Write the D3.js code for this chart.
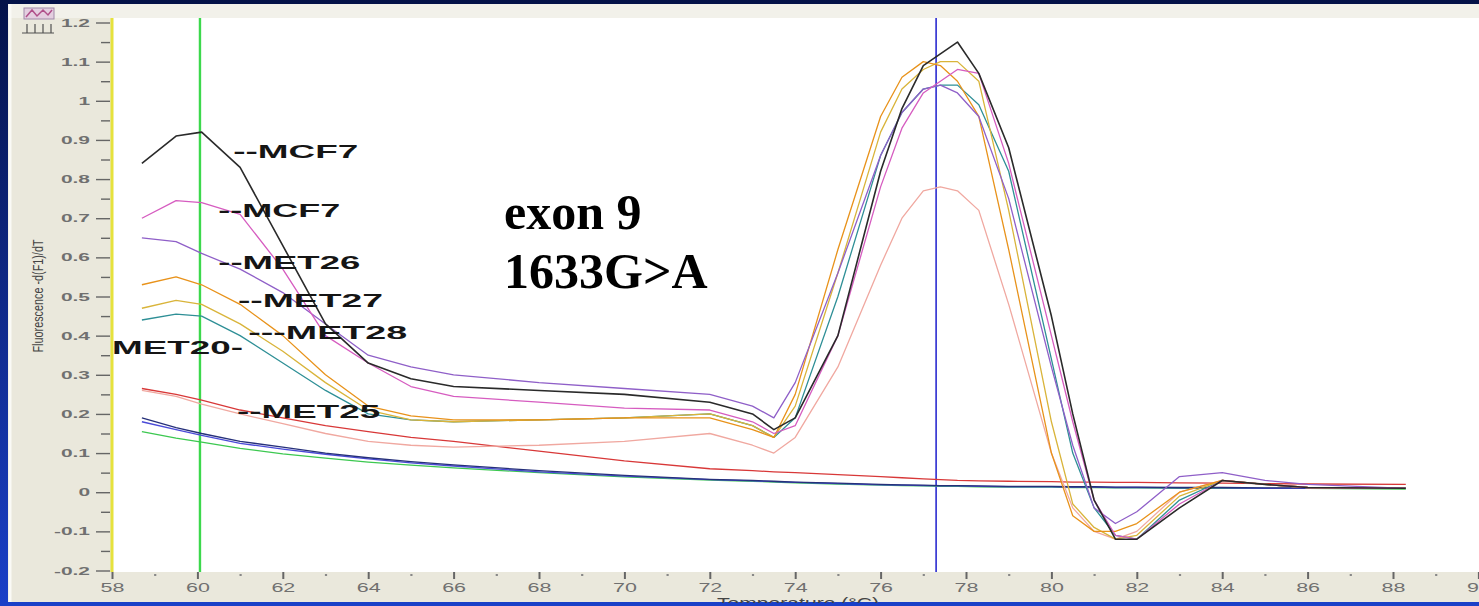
<!DOCTYPE html>
<html>
<head>
<meta charset="utf-8">
<script src="https://cdn.jsdelivr.net/npm/d3@7"></script>
<style>
  body { margin: 0; overflow: hidden; background: #0b2470; }
  #chart { width: 1479px; height: 606px; }
</style>
</head>
<body>
<div id="chart"></div>
<script>
// ---- data (temperature in °C, -d(F1)/dT) ----
const temps = [58.7, 59.5, 60.1, 61, 62, 63, 64, 65, 66, 68, 70, 72, 73, 73.5, 74, 75, 76, 76.5, 77, 77.4, 77.8, 78.3, 79, 80, 80.5, 81, 81.5, 82, 83, 84, 85, 86, 88.3];

const mcf7A  = [0.84, 0.91, 0.92, 0.83, 0.63, 0.43, 0.33, 0.29, 0.27, 0.26, 0.25, 0.23, 0.20, 0.16, 0.19, 0.40, 0.82, 0.98, 1.09, 1.12, 1.15, 1.07, 0.88, 0.45, 0.20, -0.02, -0.12, -0.12, -0.04, 0.03, 0.02, 0.012, 0.01];
const mcf7B  = [0.70, 0.745, 0.74, 0.71, 0.57, 0.40, 0.33, 0.27, 0.245, 0.23, 0.215, 0.21, 0.18, 0.15, 0.17, 0.40, 0.78, 0.93, 1.02, 1.05, 1.08, 1.07, 0.84, 0.40, 0.18, -0.02, -0.11, -0.12, -0.03, 0.03, 0.02, 0.012, 0.01];
const met26  = [0.65, 0.64, 0.61, 0.57, 0.51, 0.43, 0.35, 0.32, 0.30, 0.28, 0.265, 0.25, 0.22, 0.19, 0.28, 0.56, 0.86, 0.97, 1.03, 1.04, 1.02, 0.96, 0.75, 0.32, 0.12, -0.04, -0.08, -0.05, 0.04, 0.05, 0.03, 0.02, 0.01];
const met27  = [0.53, 0.55, 0.53, 0.48, 0.40, 0.30, 0.22, 0.195, 0.185, 0.185, 0.19, 0.19, 0.16, 0.14, 0.25, 0.62, 0.96, 1.06, 1.10, 1.09, 1.05, 0.96, 0.62, 0.10, -0.06, -0.10, -0.10, -0.08, 0.0, 0.03, 0.02, 0.012, 0.01];
const met28  = [0.47, 0.49, 0.48, 0.43, 0.36, 0.28, 0.21, 0.185, 0.18, 0.185, 0.19, 0.20, 0.17, 0.14, 0.22, 0.56, 0.92, 1.03, 1.08, 1.10, 1.10, 1.05, 0.72, 0.18, -0.03, -0.09, -0.12, -0.11, -0.01, 0.03, 0.02, 0.012, 0.01];
const met20  = [0.44, 0.455, 0.45, 0.40, 0.33, 0.26, 0.20, 0.185, 0.18, 0.185, 0.19, 0.20, 0.17, 0.14, 0.19, 0.50, 0.86, 0.97, 1.03, 1.04, 1.04, 0.99, 0.82, 0.34, 0.10, -0.04, -0.11, -0.12, -0.02, 0.03, 0.02, 0.012, 0.01];
const met25  = [0.26, 0.245, 0.225, 0.20, 0.175, 0.15, 0.13, 0.12, 0.115, 0.12, 0.13, 0.15, 0.12, 0.10, 0.14, 0.32, 0.58, 0.70, 0.77, 0.78, 0.77, 0.72, 0.48, 0.10, -0.04, -0.10, -0.12, -0.10, 0.0, 0.03, 0.02, 0.012, 0.01];
const blankRed   = [0.265, 0.25, 0.235, 0.21, 0.19, 0.17, 0.155, 0.14, 0.13, 0.105, 0.08, 0.06, 0.055, 0.052, 0.05, 0.045, 0.04, 0.037, 0.034, 0.032, 0.03, 0.029, 0.028, 0.027, 0.026, 0.026, 0.025, 0.025, 0.024, 0.023, 0.022, 0.021, 0.02];
const blankNavy  = [0.19, 0.165, 0.15, 0.13, 0.115, 0.10, 0.088, 0.078, 0.07, 0.055, 0.043, 0.033, 0.03, 0.028, 0.026, 0.023, 0.02, 0.019, 0.018, 0.017, 0.017, 0.016, 0.015, 0.015, 0.014, 0.014, 0.013, 0.013, 0.012, 0.012, 0.011, 0.011, 0.01];
const blankBlue  = [0.18, 0.16, 0.145, 0.125, 0.11, 0.097, 0.085, 0.075, 0.067, 0.052, 0.041, 0.032, 0.029, 0.027, 0.025, 0.022, 0.019, 0.018, 0.017, 0.016, 0.016, 0.015, 0.014, 0.014, 0.013, 0.013, 0.012, 0.012, 0.011, 0.011, 0.01, 0.01, 0.01];
const blankGreen = [0.155, 0.138, 0.128, 0.112, 0.098, 0.087, 0.077, 0.069, 0.062, 0.05, 0.039, 0.031, 0.028, 0.026, 0.024, 0.021, 0.018, 0.017, 0.016, 0.015, 0.015, 0.014, 0.013, 0.013, 0.012, 0.012, 0.011, 0.011, 0.01, 0.01, 0.01, 0.01, 0.008];

// drawing order: blanks underneath, samples on top
const seriesNames  = ['blank green', 'blank blue', 'blank navy', 'blank red', 'MET25', 'MET20', 'MET28', 'MET27', 'MET26', 'MCF7 b', 'MCF7 a'];
const seriesValues = [blankGreen, blankBlue, blankNavy, blankRed, met25, met20, met28, met27, met26, mcf7B, mcf7A];
const seriesColors = ['#3cc850', '#4a4ad8', '#26307a', '#d83838', '#f0a8a0', '#2e8f96', '#d9b43a', '#e8921a', '#8f5fc8', '#d65cc0', '#2a2a2a'];

const cursorTemps  = [60.06, 77.3];
const cursorColors = ['#3cd84c', '#2a2ad0'];

const xMajorTicks = [58, 60, 62, 64, 66, 68, 70, 72, 74, 76, 78, 80, 82, 84, 86, 88, 90];
const xMinorTicks = [59, 61, 63, 65, 67, 69, 71, 73, 75, 77, 79, 81, 83, 85, 87, 89];
const yMajorTicks = [1.2, 1.1, 1.0, 0.9, 0.8, 0.7, 0.6, 0.5, 0.4, 0.3, 0.2, 0.1, 0, -0.1, -0.2];
const yTickLabels = ['1.2', '1.1', '1', '0.9', '0.8', '0.7', '0.6', '0.5', '0.4', '0.3', '0.2', '0.1', '0', '-0.1', '-0.2'];
const yMinorTicks = [1.15, 1.05, 0.95, 0.85, 0.75, 0.65, 0.55, 0.45, 0.35, 0.25, 0.15, 0.05, -0.05, -0.15];

const sampleLabels = ['--MCF7', '--MCF7', '--MET26', '--MET27', '---MET28', 'MET20-', '--MET25'];

// stretch svg text horizontally (the screenshot was widened on the slide)
function stretchText(sel, factor) {
    sel.each(function () {
        const len = this.getComputedTextLength();
        d3.select(this).attr('textLength', len * factor).attr('lengthAdjust', 'spacingAndGlyphs');
    });
}

class MeltCurveChart {
    constructor(parentElement) {
        this.parentElement = parentElement;
        this.config = {
            width: 1479,
            height: 606,
            plot: { left: 113, top: 18, right: 1479, bottom: 572 },
            // label anchors in data units (temperature, value) and drawn widths
            labelAnchors: [
                [60.84, 0.854, 125], [60.49, 0.702, 122], [60.49, 0.570, 142],
                [60.95, 0.473, 145], [61.19, 0.392, 159], [58.0, 0.354, 131], [60.93, 0.189, 143]
            ]
        };
        this.initVis();
    }

    initVis() {
        let vis = this;
        const c = vis.config;

        vis.svg = d3.select('#' + vis.parentElement).append('svg')
            .attr('width', c.width)
            .attr('height', c.height);

        const defs = vis.svg.append('defs');
        const grad = defs.append('linearGradient')
            .attr('id', 'slide-bg')
            .attr('x1', 0).attr('y1', 0).attr('x2', 0).attr('y2', 1);
        grad.append('stop').attr('offset', '0%').attr('stop-color', '#041248');
        grad.append('stop').attr('offset', '100%').attr('stop-color', '#1a40c8');

        defs.append('clipPath').attr('id', 'plot-clip')
            .append('rect')
            .attr('x', c.plot.left).attr('y', c.plot.top)
            .attr('width', c.plot.right - c.plot.left)
            .attr('height', c.plot.bottom - c.plot.top);

        // slide background + window panel
        vis.svg.append('rect').attr('width', c.width).attr('height', c.height).attr('fill', 'url(#slide-bg)');
        vis.svg.append('rect')
            .attr('x', 8).attr('y', 4).attr('width', c.width - 8).attr('height', 598)
            .attr('fill', '#eae8dc');
        vis.svg.append('rect')
            .attr('x', 8).attr('y', 4).attr('width', c.width - 8).attr('height', 14)
            .attr('fill', '#f2f1ea');
        vis.svg.append('line')
            .attr('x1', 10).attr('x2', 10).attr('y1', 4).attr('y2', 602)
            .attr('stroke', '#fafaf6').attr('stroke-width', 3);
        vis.svg.append('rect')
            .attr('x', c.plot.left).attr('y', c.plot.top)
            .attr('width', c.plot.right - c.plot.left)
            .attr('height', c.plot.bottom - c.plot.top)
            .attr('fill', '#ffffff');

        // small toolbar icon in the corner
        const icon = vis.svg.append('g').attr('class', 'icon');
        icon.append('rect').attr('x', 24).attr('y', 8).attr('width', 30).attr('height', 11)
            .attr('fill', '#e4cfe0').attr('stroke', '#a08aa8');
        icon.append('path').attr('d', 'M26,17 L32,10 L37,16 L43,10 L48,15 L52,10')
            .attr('fill', 'none').attr('stroke', '#b0508a').attr('stroke-width', 1.5);
        icon.append('path').attr('d', 'M22,33 L54,33 M27,24 L27,33 M35,24 L35,33 M43,24 L43,33 M51,24 L51,33')
            .attr('fill', 'none').attr('stroke', '#505050').attr('stroke-width', 1.2);

        // scales
        vis.x = d3.scaleLinear().domain([58, 88]).range([112, 1393]);
        vis.y = d3.scaleLinear().domain([-0.2, 1.2]).range([570.5, 22.5]);

        vis.chart = vis.svg.append('g').attr('clip-path', 'url(#plot-clip)');

        vis.wrangleData();
    }

    wrangleData() {
        let vis = this;
        vis.displayData = seriesNames.map((name, i) => ({
            name: name,
            color: seriesColors[i],
            points: temps.map((t, j) => ({ t: t, v: seriesValues[i][j] }))
        }));
        vis.updateVis();
    }

    updateVis() {
        let vis = this;
        const c = vis.config;

        // cursor lines
        vis.chart.selectAll('.cursor')
            .data(cursorTemps)
            .join('line')
            .attr('class', 'cursor')
            .attr('x1', d => vis.x(d)).attr('x2', d => vis.x(d))
            .attr('y1', c.plot.top).attr('y2', c.plot.bottom)
            .attr('stroke', (d, i) => cursorColors[i])
            .attr('stroke-width', (d, i) => i === 0 ? 2.4 : 1.6);

        const line = d3.line()
            .x(d => vis.x(d.t))
            .y(d => vis.y(d.v))
            .curve(d3.curveLinear);

        vis.chart.selectAll('.melt')
            .data(vis.displayData)
            .join('path')
            .attr('class', 'melt')
            .attr('d', d => line(d.points))
            .attr('fill', 'none')
            .attr('stroke', d => d.color)
            .attr('stroke-width', d => d.name === 'MCF7 a' ? 1.6 : 1.3)
            .attr('stroke-linejoin', 'round');

        vis.renderVis();
    }

    renderVis() {
        let vis = this;
        const c = vis.config;
        const tickFont = '"Liberation Sans", Arial, sans-serif';

        // y axis: yellow base line with major/minor ticks
        vis.svg.append('line')
            .attr('x1', 112).attr('x2', 112)
            .attr('y1', c.plot.top).attr('y2', c.plot.bottom)
            .attr('stroke', '#e6e23c').attr('stroke-width', 3);

        const yAxisG = vis.svg.append('g')
            .attr('class', 'axis y-axis')
            .attr('transform', 'translate(110,0)')
            .call(d3.axisLeft(vis.y).tickValues(yMajorTicks).tickSize(14).tickPadding(6)
                .tickFormat((d, i) => yTickLabels[i]));
        vis.svg.append('g')
            .attr('class', 'axis y-minor')
            .attr('transform', 'translate(110,0)')
            .call(d3.axisLeft(vis.y).tickValues(yMinorTicks).tickSize(9).tickFormat(''));

        // x axis
        const xAxisG = vis.svg.append('g')
            .attr('class', 'axis x-axis')
            .attr('transform', `translate(0,${c.plot.bottom})`)
            .call(d3.axisBottom(vis.x).tickValues(xMajorTicks).tickSize(7).tickPadding(4)
                .tickFormat(d3.format('d')));
        const xMinorG = vis.svg.append('g')
            .attr('class', 'axis x-minor')
            .attr('transform', `translate(0,${c.plot.bottom + 2})`)
            .call(d3.axisBottom(vis.x).tickValues(xMinorTicks).tickSize(2).tickFormat(''));

        vis.svg.selectAll('.axis .domain').remove();
        vis.svg.selectAll('.axis line').attr('stroke', '#666').attr('stroke-width', 1.4);
        xAxisG.selectAll('line').attr('stroke-width', 2);
        xMinorG.selectAll('line').attr('stroke-width', 2.2).attr('stroke', '#888');

        yAxisG.selectAll('text')
            .attr('font-family', tickFont).attr('font-size', 11).attr('font-weight', 'bold')
            .attr('fill', '#707070')
            .call(stretchText, 1.9);
        xAxisG.selectAll('text')
            .attr('font-family', tickFont).attr('font-size', 13)
            .attr('fill', '#707070')
            .call(stretchText, 1.65);

        // axis titles
        vis.svg.append('text')
            .attr('transform', 'translate(43,296) rotate(-90)')
            .attr('text-anchor', 'middle')
            .attr('font-family', '"Liberation Sans Narrow", "Liberation Sans", Arial, sans-serif')
            .attr('font-size', 15)
            .attr('fill', '#444')
            .attr('textLength', 113).attr('lengthAdjust', 'spacingAndGlyphs')
            .text('Fluorescence -d(F1)/dT');

        vis.svg.append('text')
            .attr('x', 717).attr('y', 608)
            .attr('font-family', tickFont)
            .attr('font-size', 14)
            .attr('fill', '#444')
            .attr('textLength', 162).attr('lengthAdjust', 'spacingAndGlyphs')
            .text('Temperature (°C)');

        // sample labels (part of the stretched screenshot)
        vis.svg.selectAll('.sample-label')
            .data(sampleLabels)
            .join('text')
            .attr('class', 'sample-label')
            .attr('x', (d, i) => vis.x(c.labelAnchors[i][0]))
            .attr('y', (d, i) => vis.y(c.labelAnchors[i][1]))
            .attr('font-family', tickFont)
            .attr('font-size', 18)
            .attr('font-weight', 'bold')
            .attr('fill', '#151515')
            .attr('textLength', (d, i) => c.labelAnchors[i][2])
            .attr('lengthAdjust', 'spacingAndGlyphs')
            .text(d => d);

        // slide textbox
        const note = vis.svg.append('text')
            .attr('font-family', '"Liberation Serif", "Times New Roman", serif')
            .attr('font-weight', 'bold')
            .attr('font-size', 50)
            .attr('fill', '#000');
        note.append('tspan').attr('x', 504).attr('y', 229).text('exon 9');
        note.append('tspan').attr('x', 504).attr('y', 288).text('1633G>A');

        // bottom strip of the slide covers the cut-off axis title
        vis.svg.append('rect')
            .attr('x', 0).attr('y', 603).attr('width', c.width).attr('height', 3)
            .attr('fill', '#1a40c8');
        vis.svg.append('rect')
            .attr('x', 0).attr('y', 0).attr('width', 8).attr('height', c.height)
            .attr('fill', 'url(#slide-bg)');
    }
}

new MeltCurveChart('chart');
</script>
</body>
</html>
